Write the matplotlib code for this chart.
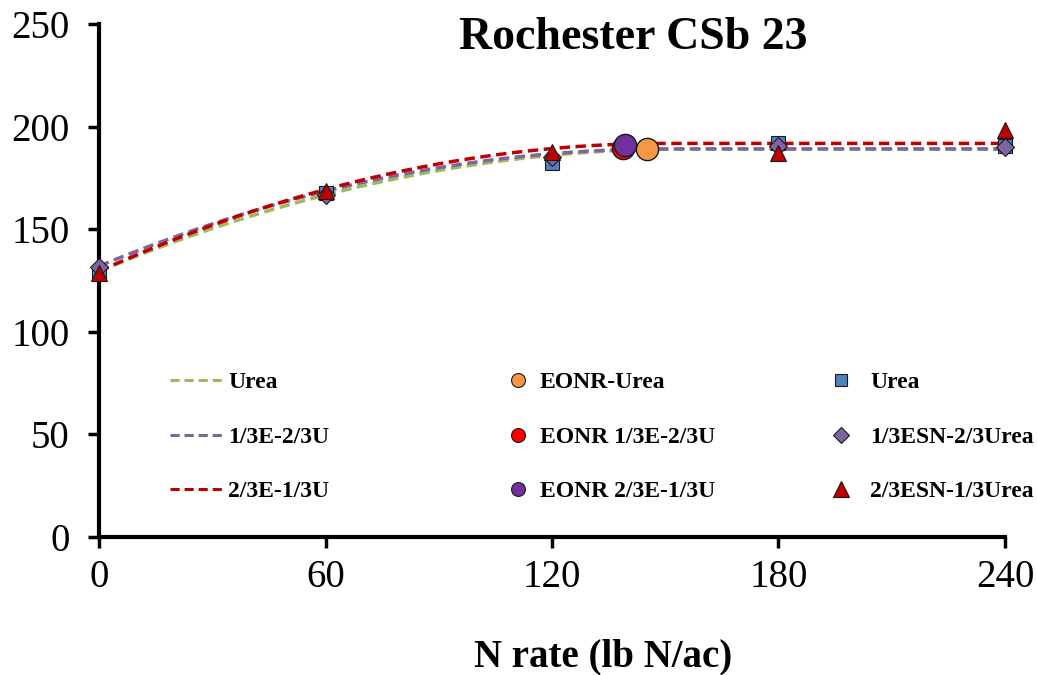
import numpy as np
import matplotlib
matplotlib.use("Agg")
import matplotlib.pyplot as plt
from matplotlib.lines import Line2D

plt.rcParams['font.family'] = ['Liberation Serif', 'DejaVu Serif']

# ---- data ----
n_rates = [0, 60, 120, 180, 240]
urea_yield = [128.6, 167.5, 182.5, 192.0, 190.5]
esn13_yield = [131.7, 166.8, 185.0, 190.7, 190.2]
esn23_yield = [128.6, 168.6, 187.8, 187.0, 198.5]

# quadratic-plateau model parameters: intercept, plateau, join point
model_names = ['Urea', '1/3E-2/3U', '2/3E-1/3U']
model_intercept = [129.5, 132.0, 129.5]
model_plateau = [189.1, 189.1, 191.8]
model_join = [155.0, 150.0, 150.0]

eonr_names = ['EONR-Urea', 'EONR 1/3E-2/3U', 'EONR 2/3E-1/3U']
eonr_x = [145.1, 138.9, 139.3]
eonr_y = [188.9, 189.4, 191.0]

point_names = ['Urea', '1/3ESN-2/3Urea', '2/3ESN-1/3Urea']

x_ticks = [0, 60, 120, 180, 240]
y_ticks = [0, 50, 100, 150, 200, 250]

# ---- styles ----
line_colors = ['#9BBB59', '#8064A2', '#C00000']
eonr_colors = ['#F79646', '#FF0000', '#7030A0']
pt_colors = ['#4F81BD', '#8064A2', '#C00000']
pt_markers = ['s', 'D', '^']
pt_sizes = [10, 9, 12]

W, H = 1037, 675
fig = plt.figure(figsize=(W / 100, H / 100), dpi=100)
ax = fig.add_axes([99 / W, 1 - 537 / H, 906 / W, 513 / H])

xs = np.linspace(0, 240, 481)
for name, a, p, j, col in zip(model_names, model_intercept, model_plateau, model_join, line_colors):
    k = (p - a) / j ** 2
    ys = np.where(xs < j, p - k * (j - xs) ** 2, p)
    ax.plot(xs, ys, linestyle=(0, (3, 1.6)), color=col, lw=2.5, zorder=2, label=name)

for ys_, name, col, mk, ms in zip([urea_yield, esn13_yield, esn23_yield], point_names, pt_colors, pt_markers, pt_sizes):
    ax.plot(n_rates, ys_, linestyle='none', marker=mk, markersize=ms, color=col,
            markeredgecolor='#1a1a1a', markeredgewidth=0.8, zorder=3, label=name)

for x, y, name, col in zip(eonr_x, eonr_y, eonr_names, eonr_colors):
    ax.plot([x], [y], linestyle='none', marker='o', markersize=16, color=col,
            markeredgecolor='#1a1a1a', markeredgewidth=1.0, zorder=4, label=name)

ax.set_xlim(0, 240)
ax.set_ylim(0, 250)
ax.set_xticks(x_ticks)
ax.set_yticks(y_ticks)
ax.tick_params(axis='both', labelsize=28, width=2.5, length=8, direction='out')
ax.tick_params(axis='x', pad=8)
ax.tick_params(axis='y', pad=13)
for s in ['top', 'right']:
    ax.spines[s].set_visible(False)
for s in ['left', 'bottom']:
    ax.spines[s].set_linewidth(3)
for art in ax.lines:
    art.set_clip_on(False)

ax.set_title('Rochester CSb 23', fontsize=33, fontweight='bold', x=0.59, y=0.935)
ax.set_xlabel('N rate (lb N/ac)', fontsize=28, fontweight='bold')
ax.xaxis.set_label_coords((603 - 99) / 906, -0.197)

# ---- legend: three columns placed separately ----
fs = 17
em = fs * 100 / 72.0
yc = 1 - 437 / H
common = dict(loc='center left', frameon=False, prop={'weight': 'bold', 'size': fs},
              borderpad=0, borderaxespad=0, labelspacing=1.39)

leg_lines = [Line2D([], [], linestyle=(0, (3, 1.6)), color=c, lw=2.2) for c in line_colors]
leg_eonr = [Line2D([], [], linestyle='none', marker='o', markersize=10, color=c,
                   markeredgecolor='#1a1a1a', markeredgewidth=0.8) for c in eonr_colors]
leg_pts = [Line2D([], [], linestyle='none', marker=m, markersize=s, color=c,
                  markeredgecolor='#1a1a1a', markeredgewidth=0.8)
           for m, s, c in zip(pt_markers, [9, 8, 11], pt_colors)]

l1 = fig.legend(leg_lines, model_names, bbox_to_anchor=(170 / W, yc),
                handlelength=55 / em, handletextpad=0.13, **common)
l2 = fig.legend(leg_eonr, eonr_names, bbox_to_anchor=((518 - em / 2) / W, yc),
                handlelength=1.0, handletextpad=0.43, **common)
l3 = fig.legend(leg_pts, point_names, bbox_to_anchor=((841 - em / 2) / W, yc),
                handlelength=1.0, handletextpad=0.73, **common)

fig.savefig('out.png', dpi=100)
